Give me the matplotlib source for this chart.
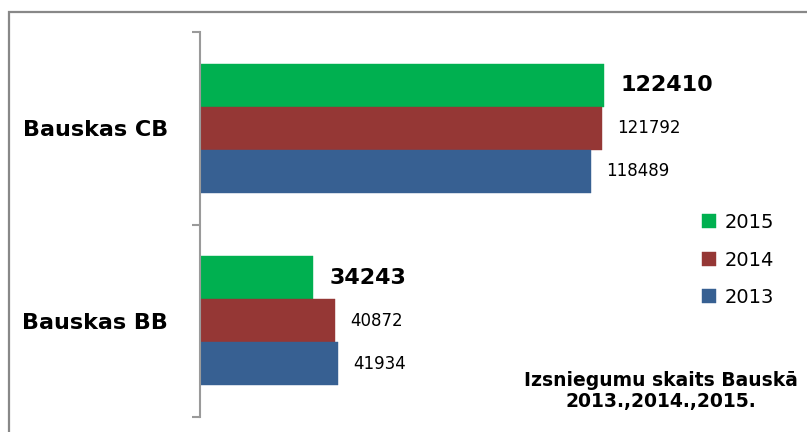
import numpy as np
import matplotlib.pyplot as plt
from matplotlib.patches import Rectangle, Patch

# data
categories = ["Bauskas CB", "Bauskas BB"]
years = ["2015", "2014", "2013"]
values_2015 = [122410, 34243]
values_2014 = [121792, 40872]
values_2013 = [118489, 41934]
colors = ["#00B050", "#953735", "#376092"]
title = "Izsniegumu skaits Bauskā\n2013.,2014.,2015."

fig = plt.figure(figsize=(8.07, 4.32), dpi=100)
ax = fig.add_axes([200 / 807, 15 / 432, 480 / 807, 385 / 432])

y = np.arange(len(categories))
h = 0.2234
series = [values_2015, values_2014, values_2013]
for i, (vals, col) in enumerate(zip(series, colors)):
    pos = y + (i - 1) * h
    ax.barh(pos, vals, height=h, color=col, edgecolor=col, linewidth=0.3)
    for p, v in zip(pos, vals):
        bold = i == 0
        ax.annotate(str(v), (v, p), xytext=(12 if bold else 11, 0),
                    textcoords="offset points", va="center", ha="left",
                    fontsize=16 if bold else 12,
                    fontweight="bold" if bold else "normal", color="black")

ax.set_xlim(0, 145436)
ax.set_ylim(-0.5, 1.5)
ax.invert_yaxis()

for s in ["top", "right", "bottom"]:
    ax.spines[s].set_visible(False)
ax.spines["left"].set_color("#9a9a9a")
ax.spines["left"].set_linewidth(1.5)
ax.set_xticks([])
ax.set_yticks([-0.5, 0.5, 1.5])
ax.set_yticklabels([])
ax.tick_params(axis="y", which="major", length=6, width=1.5, color="#9a9a9a")
ax.set_yticks(y, minor=True)
ax.set_yticklabels(categories, minor=True, fontsize=16, fontweight="bold")
ax.tick_params(axis="y", which="minor", length=0, pad=23)

handles = [Patch(facecolor=c, edgecolor=c, linewidth=0.3) for c in colors]
fig.legend(handles, years, loc="center left", bbox_to_anchor=(692 / 807, 1 - 260 / 432),
           frameon=False, fontsize=14, handlelength=0.75, handleheight=0.75,
           handletextpad=0.45, labelspacing=0.95, borderpad=0)

fig.text(661 / 807, 1 - 391 / 432, title, ha="center", va="center",
         fontsize=13.5, fontweight="bold", linespacing=1.1)

fig.add_artist(Rectangle((9 / 807, -0.2), 1.2, 1.2 - 12 / 432, transform=fig.transFigure,
                         fill=False, edgecolor="#888888", linewidth=1.6))

fig.savefig("out.png", dpi=100)
